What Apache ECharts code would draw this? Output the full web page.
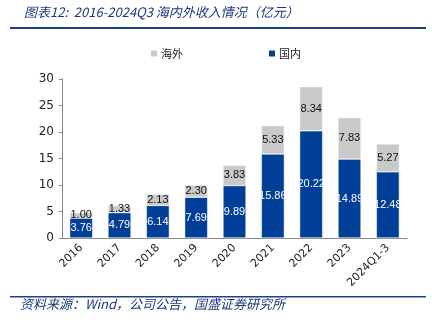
<!DOCTYPE html>
<html><head><meta charset="utf-8">
<script src="https://cdn.jsdelivr.net/npm/echarts@6/dist/echarts.min.js"></script>
<style>html,body{margin:0;padding:0;background:#fff}#c{width:432px;height:325px}</style>
</head><body><div id="c"></div>
<script>
const categories = ['2016','2017','2018','2019','2020','2021','2022','2023','2024Q1-3'];
const domestic = [3.76,4.79,6.14,7.69,9.89,15.86,20.22,14.89,12.48];
const overseas = [1.00,1.33,2.13,2.30,3.83,5.33,8.34,7.83,5.27];
const yTicks = [0,5,10,15,20,25,30];
const titleText = '图表12:  2016-2024Q3 海内外收入情况（亿元）';
const sourceText = '资料来源：Wind，公司公告，国盛证券研究所';

const chart = echarts.init(document.getElementById('c'));
const font = '"DejaVu Sans", Verdana, sans-serif';
const labelFont = '"Liberation Sans", Arial, sans-serif';
chart.setOption({
  animation: false,
  textStyle: {fontFamily: font},
  title: {text: titleText, left: 19, top: 1,
    textStyle: {fontSize: 13, fontStyle: 'italic', fontWeight: 'normal', color: '#1a3a7c', fontFamily: '"Noto Sans CJK SC", sans-serif'}},
  graphic: [
    {type: 'rect', shape: {x: 10, y: 27, width: 416, height: 2}, style: {fill: '#1f3f8c'}},
    {type: 'rect', shape: {x: 10, y: 296, width: 416, height: 1.5}, style: {fill: '#1f3f8c'}},
    {type: 'text', left: 20, top: 298, style: {text: sourceText, fontSize: 13, fontStyle: 'italic', fill: '#1a3a7c', fontFamily: '"Noto Sans CJK SC", sans-serif'}}
  ],
  legend: {
    data: [{name: '海外'}, {name: '国内'}],
    top: 43, left: 144, itemGap: 84, itemWidth: 8, itemHeight: 8, icon: 'rect',
    textStyle: {fontSize: 11, color: '#222', padding: [0,0,0,-2], fontFamily: '"Noto Sans CJK SC", sans-serif'}
  },
  grid: {left: 62, right: 25, top: 79, bottom: 87},
  xAxis: {
    type: 'category', data: categories,
    axisLine: {lineStyle: {color: '#888'}},
    axisTick: {inside: true, length: 4, lineStyle: {color: '#888'}},
    axisLabel: {rotate: 45, fontSize: 11, color: '#222', margin: 8}
  },
  yAxis: {
    type: 'value', min: yTicks[0], max: yTicks[yTicks.length-1], interval: 5,
    splitLine: {show: false},
    axisLine: {show: true, lineStyle: {color: '#888'}},
    axisTick: {show: true, length: 3, lineStyle: {color: '#888'}},
    axisLabel: {fontSize: 12, color: '#222', margin: 8}
  },
  series: [
    {name: '国内', type: 'bar', stack: 's', data: domestic, barWidth: 23,
      itemStyle: {color: '#003f98', borderColor: '#fff', borderWidth: 0.5},
      label: {show: true, position: 'inside', color: '#fff', fontSize: 11, fontFamily: labelFont, formatter: p => p.value.toFixed(2)}},
    {name: '海外', type: 'bar', stack: 's', data: overseas, barWidth: 23,
      itemStyle: {color: '#c9c9c9', borderColor: '#fff', borderWidth: 0.5},
      label: {show: true, position: 'inside', color: '#111', fontSize: 11, fontFamily: labelFont, formatter: p => p.value.toFixed(2)}}
  ]
});
</script></body></html>
